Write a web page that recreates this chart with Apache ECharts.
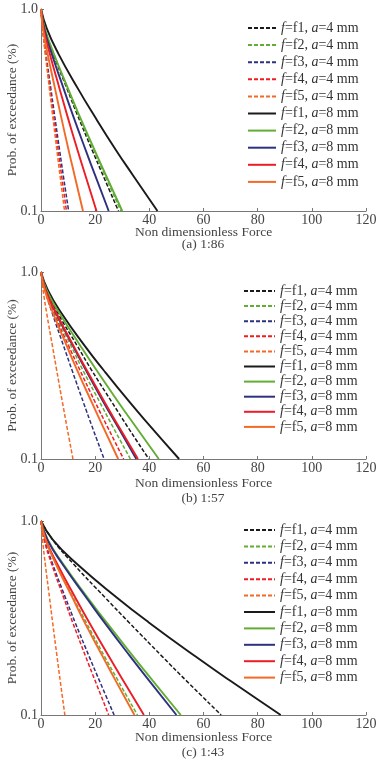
<!DOCTYPE html>
<html>
<head>
<meta charset="utf-8">
<script src="https://cdn.jsdelivr.net/npm/echarts@6/dist/echarts.min.js"></script>
<style>
  html, body { margin: 0; padding: 0; background: #fff; }
  #chart { width: 379px; height: 763px; }
</style>
</head>
<body>
<div id="chart"></div>
<script>
var probLevels = [1.0, 0.8, 0.6, 0.4, 0.3, 0.2, 0.15, 0.1];

var fNames = ['f1', 'f2', 'f3', 'f4', 'f5'];
var aSizes = [4, 8];
var captions = ['(a) 1:86', '(b) 1:57', '(c) 1:43'];
var xTicks = [0, 20, 40, 60, 80, 100, 120];

// (a) 1:86 - force at each prob level, rows f1..f5
var panelA_a4 = [
  [0, 1.4, 4.5, 9.7, 13.4, 18.9, 22.9, 28.6],
  [0, 1.4, 4.7, 10.0, 13.8, 19.5, 23.6, 29.5],
  [0, 0.66, 1.84, 3.67, 4.98, 6.86, 8.23, 10.2],
  [0, 0.61, 1.69, 3.38, 4.59, 6.33, 7.59, 9.4],
  [0, 0.57, 1.57, 3.13, 4.25, 5.86, 7.02, 8.7]
];
var panelA_a8 = [
  [0, 2.15, 6.45, 13.8, 19.4, 27.7, 34.0, 43],
  [0, 1.44, 4.74, 10.1, 14.0, 19.8, 24.0, 30],
  [0, 1.2, 3.95, 8.45, 11.7, 16.5, 20.0, 25],
  [0, 0.98, 3.24, 6.93, 9.59, 13.5, 16.4, 20.5],
  [0, 0.74, 2.45, 5.24, 7.25, 10.2, 12.4, 15.5]
];
// (b) 1:57
var panelB_a4 = [
  [0, 1.9, 6.3, 13.5, 18.6, 26.3, 31.8, 39.8],
  [0, 1.6, 5.2, 11.2, 15.4, 21.8, 26.4, 33],
  [0, 1.5, 4.2, 8.4, 11.4, 15.7, 18.8, 23.3],
  [0, 1.5, 4.8, 10.3, 14.3, 20.1, 24.4, 30.5],
  [0, 0.77, 2.12, 4.25, 5.76, 7.94, 9.52, 11.8]
];
var panelB_a8 = [
  [0, 2.55, 7.65, 16.3, 23.0, 32.9, 40.3, 51],
  [0, 2.1, 6.9, 14.7, 20.4, 28.7, 34.8, 43.5],
  [0, 1.7, 5.6, 11.9, 16.5, 23.2, 28.2, 35.2],
  [0, 1.7, 5.7, 12.1, 16.8, 23.6, 28.6, 35.8],
  [0, 1.4, 4.5, 9.6, 13.3, 18.8, 22.8, 28.5]
];
// (c) 1:43
var panelC_a4 = [
  [0, 4.3, 12.0, 23.9, 32.5, 44.8, 53.7, 66.5],
  [0, 1.7, 5.6, 12.0, 16.7, 23.5, 28.5, 35.6],
  [0, 1.3, 4.3, 9.1, 12.6, 17.8, 21.6, 27],
  [0, 1.2, 3.95, 8.45, 11.7, 16.5, 20.0, 25],
  [0, 0.57, 1.58, 3.17, 4.29, 5.92, 7.1, 8.8]
];
var panelC_a8 = [
  [0, 4.4, 13.3, 28.3, 39.8, 57.1, 69.9, 88.5],
  [0, 2.5, 8.2, 17.4, 24.2, 34.1, 41.3, 51.6],
  [0, 2.4, 7.9, 16.9, 23.4, 33.0, 40.0, 50],
  [0, 1.8, 6.0, 12.8, 17.8, 25.1, 30.4, 38],
  [0, 1.7, 5.5, 11.7, 16.1, 22.8, 27.6, 34.5]
];

var panels = [[panelA_a4, panelA_a8], [panelB_a4, panelB_a8], [panelC_a4, panelC_a8]];

var FONT = 'Liberation Serif';
var colors = ['#1a1a1a', '#62ad35', '#2d3180', '#ee1c25', '#f26a26'];

var grids = [
  { left: 41, top: 9, width: 325, height: 202, outerBoundsMode: 'none' },
  { left: 41, top: 272, width: 325, height: 187, outerBoundsMode: 'none' },
  { left: 41, top: 521, width: 325, height: 194, outerBoundsMode: 'none' }
];
var nameGaps = [14, 17, 15];
var captionTops = [237, 491, 745];
var legendTops = [21, 284, 523];
var legendLefts = [247, 243, 243];
var legendGaps = [3.1, 1.1, 2.4];
var legendItemW = [28, 31, 31];

function seriesName(f, a) {
  return 'f=' + f + ', a=' + a + ' mm';
}

var chart = echarts.init(document.getElementById('chart'), null, { renderer: 'canvas' });

var xAxes = [], yAxes = [], series = [], legends = [], titles = [];
var allNames = [];
aSizes.forEach(function (a) {
  fNames.forEach(function (f) { allNames.push(seriesName(f, a)); });
});

grids.forEach(function (g, gi) {
  xAxes.push({
    gridIndex: gi, type: 'value', min: 0, max: 120, interval: 20,
    name: 'Non dimensionless Force', nameLocation: 'middle', nameGap: nameGaps[gi],
    nameMoveOverlap: false,
    nameTextStyle: { fontFamily: FONT, fontSize: 13.5, color: '#444' },
    axisLine: { lineStyle: { color: '#777', width: 1 } },
    axisTick: { inside: true, length: 3, lineStyle: { color: '#777' } },
    axisLabel: { margin: 2, fontFamily: FONT, fontSize: 14, color: '#444' },
    splitLine: { show: false }
  });
  yAxes.push({
    gridIndex: gi, type: 'log', logBase: 10, min: 0.1, max: 1,
    name: 'Prob. of exceedance (%)', nameLocation: 'middle', nameGap: 22,
    nameMoveOverlap: false,
    nameTextStyle: { fontFamily: FONT, fontSize: 13.5, color: '#444' },
    axisLine: { show: true, lineStyle: { color: '#777', width: 1 } },
    axisTick: { inside: true, length: 3, lineStyle: { color: '#777' } },
    axisLabel: {
      margin: 3, fontFamily: FONT, fontSize: 14, color: '#444',
      formatter: function (v) { return Number(v).toFixed(1); }
    },
    splitLine: { show: false }
  });

  panels[gi].forEach(function (rows, ai) {
    rows.forEach(function (xs, fi) {
      series.push({
        name: seriesName(fNames[fi], aSizes[ai]),
        type: 'line',
        xAxisIndex: gi, yAxisIndex: gi,
        smooth: true,
        symbol: 'none',
        silent: true,
        lineStyle: {
          color: colors[fi],
          width: ai === 0 ? 1.5 : 1.9,
          type: ai === 0 ? [4, 2] : 'solid'
        },
        itemStyle: { color: colors[fi] },
        data: probLevels.map(function (p, k) { return [xs[k], p]; })
      });
    });
  });

  legends.push({
    orient: 'vertical', left: legendLefts[gi], top: legendTops[gi],
    padding: 0,
    itemWidth: legendItemW[gi], itemHeight: 10, itemGap: legendGaps[gi],
    selectedMode: false,
    data: allNames,
    itemStyle: { opacity: 0 },
    formatter: function (n) {
      return n.replace(/^f=/, '{i|f}=').replace(', a=', ', {i|a}=');
    },
    textStyle: {
      fontFamily: FONT, fontSize: 14, color: '#333', lineHeight: 13,
      rich: { i: { fontFamily: FONT, fontSize: 14, fontStyle: 'italic', color: '#333' } }
    }
  });

  titles.push({
    text: captions[gi], left: 203, top: captionTops[gi], textAlign: 'center',
    textStyle: { fontFamily: FONT, fontSize: 13.5, fontWeight: 'normal', color: '#444' },
    padding: 0
  });
});

chart.setOption({
  backgroundColor: '#fff',
  animation: false,
  title: titles,
  grid: grids,
  xAxis: xAxes,
  yAxis: yAxes,
  legend: legends,
  series: series
});
</script>
</body>
</html>
